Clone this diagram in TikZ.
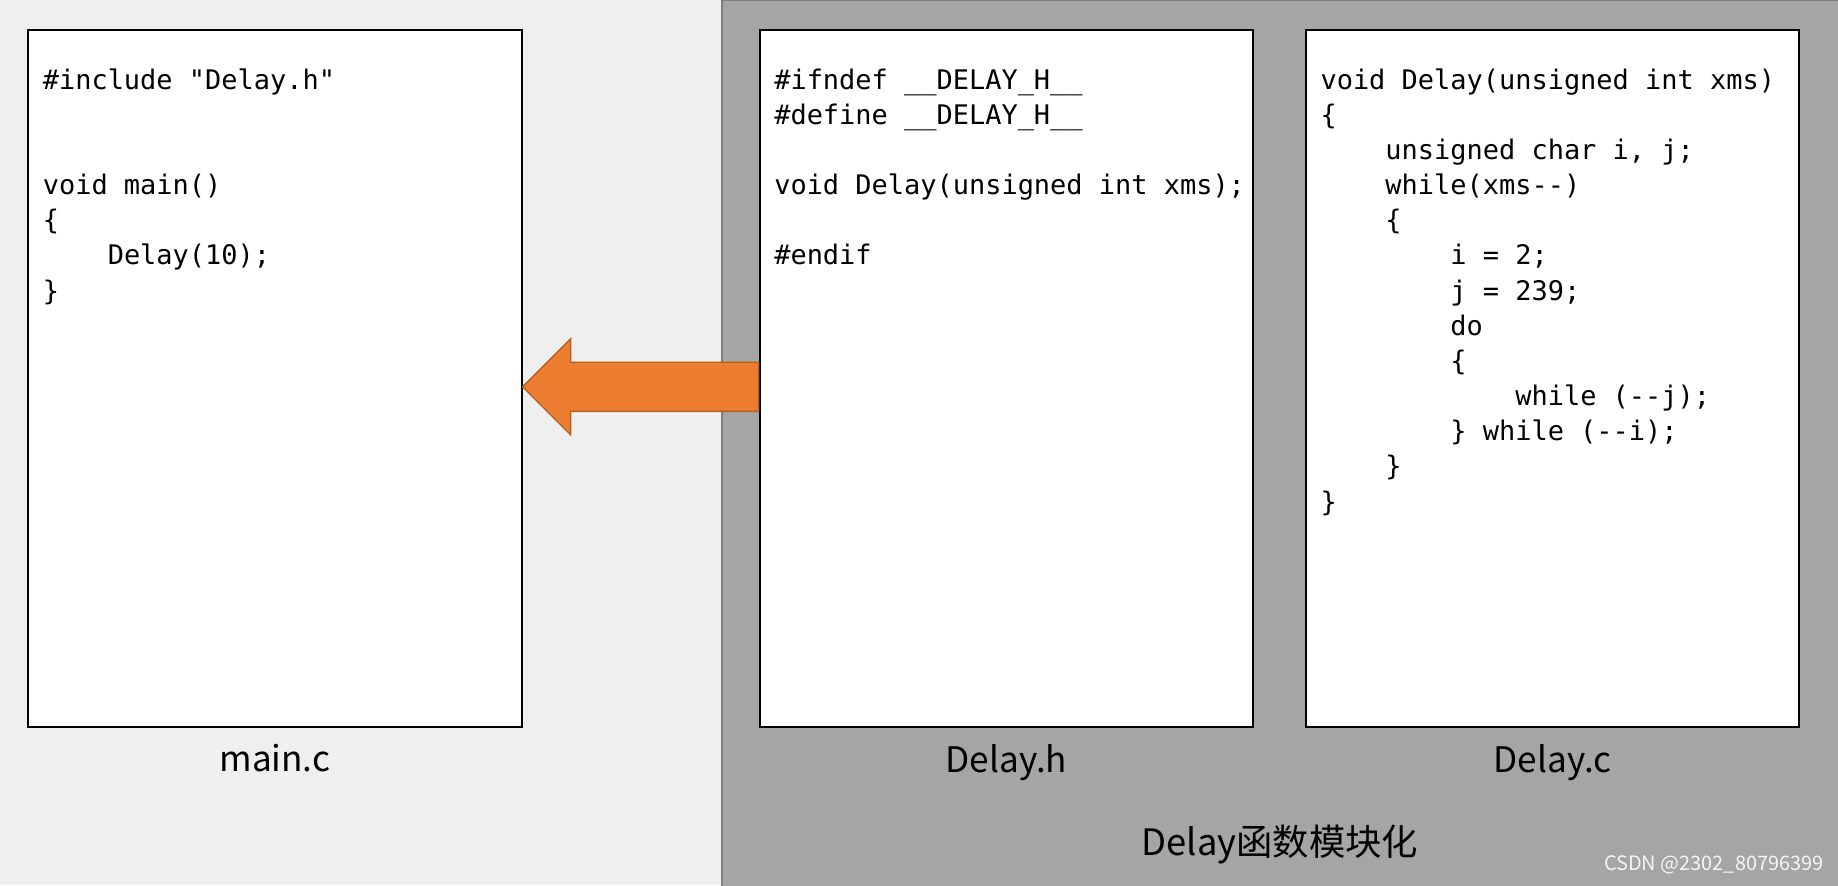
\documentclass[tikz,border=0pt]{standalone}
\usepackage{fontspec}
\newfontfamily\codefont{DejaVu Sans Mono}
\newfontfamily\cjkfont{Noto Sans CJK SC}
\usetikzlibrary{positioning,calc}
\definecolor{bgback}{HTML}{EFEFEF}
\definecolor{panelgray}{HTML}{A5A5A5}
\definecolor{panelline}{HTML}{7F7F7F}
\definecolor{arrowfill}{HTML}{ED7D31}
\definecolor{arrowline}{HTML}{B7611F}
\newcommand{\codeind}{\phantom{0000}}
\tikzset{
  filebox/.style={draw=black, line width=0.85pt, fill=white,
    minimum width=210.5pt, minimum height=297pt, inner sep=0pt},
  codetext/.style={anchor=north west, inner sep=0pt, align=left,
    font=\codefont\fontsize{11.5}{15}\selectfont},
  filename/.style={inner sep=0pt, font=\cjkfont\fontsize{15}{18}\selectfont},
}
\begin{document}
\begin{tikzpicture}[x=0.5pt, y=-0.5pt]
    \useasboundingbox (0,0) rectangle (1568,755);
    \fill[bgback] (0,0) rectangle (1568,755);
    % module panel
    \draw[panelline, fill=panelgray, line width=1pt] (616,0) rectangle (1574,762);
    % files
    \node[filebox] (mainbox) at (234.5,323) {};
    \node[filebox] (hbox) at (858.5,323) {};
    \node[filebox] (cbox) at (1324.5,323) {};
    \node[codetext] (maincode) at ([shift={(13,29.5)}]mainbox.north west)
        {\strut\#include "Delay.h"\\[30pt]
         void main()\\
         \{\\
         \codeind Delay(10);\\
         \}};
    \node[codetext] (hcode) at ([shift={(13,29.5)}]hbox.north west)
        {\strut\#ifndef \_\_DELAY\_H\_\_\\
         \#define \_\_DELAY\_H\_\_\\[15pt]
         void Delay(unsigned int xms);\\[15pt]
         \#endif};
    \node[codetext] (ccode) at ([shift={(13,29.5)}]cbox.north west)
        {\strut void Delay(unsigned int xms)\\
         \{\\
         \codeind unsigned char i, j;\\
         \codeind while(xms-{}-)\\
         \codeind\{\\
         \codeind\codeind i = 2;\\
         \codeind\codeind j = 239;\\
         \codeind\codeind do\\
         \codeind\codeind\{\\
         \codeind\codeind\codeind while (-{}-j);\\
         \codeind\codeind\} while (-{}-i);\\
         \codeind\}\\
         \}};
    % Labels
    \node[filename, below=7pt of mainbox] (mainname) {main.c};
    \node[filename, below=7pt of hbox] (hname) {Delay.h};
    \node[filename, below=7pt of cbox] (cname) {Delay.c};
    \node[inner sep=0pt, font=\cjkfont\fontsize{15.5}{18}\selectfont] (modtitle) at (1092,720) {Delay函数模块化};
    \node[inner sep=0pt, anchor=east, text=white!92!gray, font=\cjkfont\fontsize{8.5}{10}\selectfont] (mark) at (1556,738) {CSDN @2302\_80796399};
    % include arrow
    \coordinate (tip) at (mainbox.east |- 0,330);
    \coordinate (tail) at (hbox.west |- tip);
    \draw[arrowline, fill=arrowfill, line width=0.6pt] (tip) -- ++(41,-41) -- ++(0,20)
        -- ($(tail)+(0,-21)$) -- ($(tail)+(0,21)$) -- ($(tip)+(41,21)$) -- ++(0,20) -- cycle;
\end{tikzpicture}
\end{document}
